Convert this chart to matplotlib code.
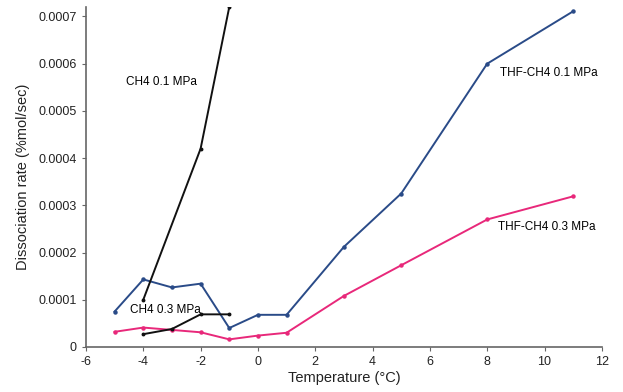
import matplotlib.pyplot as plt

plt.rcParams['font.family'] = ['Liberation Sans', 'DejaVu Sans']
plt.rcParams['axes.unicode_minus'] = False

# data
temp = [-5, -4, -3, -2, -1, 0, 1, 3, 5, 8, 11]
thf_01 = [0.000075, 0.000143, 0.000126, 0.000134, 0.000040, 0.000068, 0.000068,
          0.000212, 0.000325, 0.000600, 0.000711]
thf_03 = [0.000032, 0.000041, 0.000036, 0.000031, 0.000016, 0.000024, 0.000030,
          0.000108, 0.000173, 0.000270, 0.000319]

ch4_temp = [-4, -2, -1]
ch4_01 = [0.000100, 0.000420, 0.000720]
ch4_03_temp = [-4, -3, -2, -1]
ch4_03 = [0.000027, 0.000038, 0.000069, 0.000069]

fig = plt.figure(figsize=(6.23, 3.92), dpi=100)
ax = fig.add_axes([0.138, 0.115, 0.828, 0.867])

ax.plot(temp, thf_01, color='#2a4b88', lw=1.4, marker='o', ms=2.2)
ax.plot(temp, thf_03, color='#e8287a', lw=1.4, marker='o', ms=2.2)
ax.plot(ch4_temp, ch4_01, color='#111111', lw=1.4, marker='o', ms=1.8)
ax.plot(ch4_03_temp, ch4_03, color='#111111', lw=1.4, marker='o', ms=1.8)

ax.text(-4.6, 0.000562, 'CH4 0.1 MPa', fontsize=8.5, va='center')
ax.text(-4.47, 0.000078, 'CH4 0.3 MPa', fontsize=8.5, va='center')
ax.text(8.45, 0.000580, 'THF-CH4 0.1 MPa', fontsize=8.5, va='center')
ax.text(8.37, 0.000255, 'THF-CH4 0.3 MPa', fontsize=8.5, va='center')

ax.set_xlim(-6, 12)
ax.set_ylim(0, 0.00072)
ax.set_xticks(range(-6, 13, 2))
ax.set_yticks([0, 0.0001, 0.0002, 0.0003, 0.0004, 0.0005, 0.0006, 0.0007])
ax.set_yticklabels(['0', '0.0001', '0.0002', '0.0003', '0.0004', '0.0005', '0.0006', '0.0007'])

for s in ['top', 'right']:
    ax.spines[s].set_visible(False)
for s in ['left', 'bottom']:
    ax.spines[s].set_color('#666666')
    ax.spines[s].set_linewidth(1.2)
ax.tick_params(direction='out', length=3, color='#666666', labelsize=9, colors='#222222')

ax.set_xlabel('Temperature (°C)', fontsize=10.5, color='#222222', labelpad=2)
ax.set_ylabel('Dissociation rate (%mol/sec)', fontsize=10.5, color='#222222', labelpad=6)

fig.savefig('out.png', dpi=100)
